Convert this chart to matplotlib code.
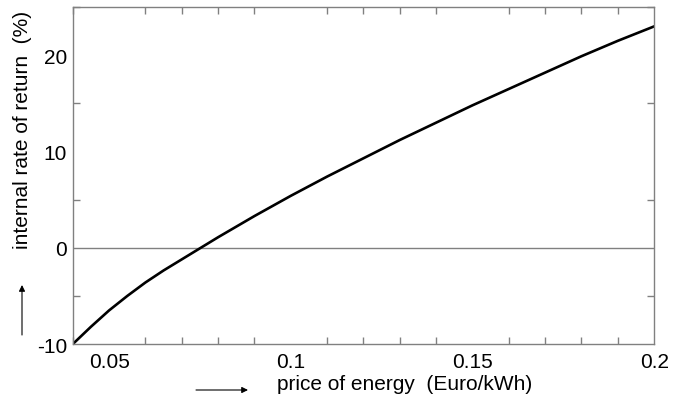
import matplotlib
matplotlib.use('Agg')
import matplotlib.pyplot as plt
from matplotlib.ticker import MultipleLocator, FixedLocator

plt.rcParams['font.family'] = ['Liberation Sans', 'DejaVu Sans']
plt.rcParams['axes.unicode_minus'] = False

# energy price (Euro/kWh) vs internal rate of return (%)
price = [0.04, 0.045, 0.05, 0.055, 0.06, 0.065, 0.07, 0.08, 0.09, 0.10,
         0.11, 0.12, 0.13, 0.14, 0.15, 0.16, 0.17, 0.18, 0.19, 0.20]
irr = [-10.0, -8.2, -6.5, -5.0, -3.6, -2.35, -1.2, 1.1, 3.3, 5.4,
       7.4, 9.3, 11.2, 13.0, 14.8, 16.5, 18.2, 19.9, 21.5, 23.0]
xticks = [0.05, 0.1, 0.15, 0.2]
xticklabels = ['0.05', '0.1', '0.15', '0.2']
yticks = [-10, 0, 10, 20]

gray = '#808080'

fig = plt.figure(figsize=(6.8, 4.06), dpi=100)
ax = fig.add_axes([0.107, 0.150, 0.855, 0.830])

ax.axhline(0, color=gray, lw=1.0, zorder=1)
ax.plot(price, irr, color='black', lw=1.9, zorder=2, solid_joinstyle='round')

ax.set_xlim(0.04, 0.2)
ax.set_ylim(-10, 25)

ax.xaxis.set_major_locator(FixedLocator(xticks))
ax.set_xticklabels(xticklabels)
ax.xaxis.set_minor_locator(MultipleLocator(0.01))
ax.yaxis.set_major_locator(FixedLocator(yticks))
ax.yaxis.set_minor_locator(MultipleLocator(5))

for side in ax.spines.values():
    side.set_color(gray)
    side.set_linewidth(1.0)

ax.tick_params(which='both', direction='in', top=True, right=True,
               color=gray, width=1.0, length=5, labelsize=15)
ax.tick_params(axis='x', which='major', length=0, pad=6)
ax.tick_params(axis='y', which='major', length=0, pad=4)

# axis titles with arrows, placed in figure pixels
fig.text(23 / 680, 1 - 130 / 406, 'internal rate of return  (%)', rotation=90,
         ha='center', va='center', fontsize=15)
fig.text(405 / 680, 1 - 385 / 406, 'price of energy  (Euro/kWh)',
         ha='center', va='center', fontsize=15)

arrow = dict(arrowstyle='-|>', color='black', lw=0.8, mutation_scale=9,
             shrinkA=0, shrinkB=0)
fig.add_artist(matplotlib.patches.FancyArrowPatch(
    (22 / 680, 1 - 336 / 406), (22 / 680, 1 - 286 / 406),
    transform=fig.transFigure, **arrow))
fig.add_artist(matplotlib.patches.FancyArrowPatch(
    (196 / 680, 1 - 391 / 406), (248 / 680, 1 - 391 / 406),
    transform=fig.transFigure, **arrow))

fig.savefig('out.png', dpi=100)
